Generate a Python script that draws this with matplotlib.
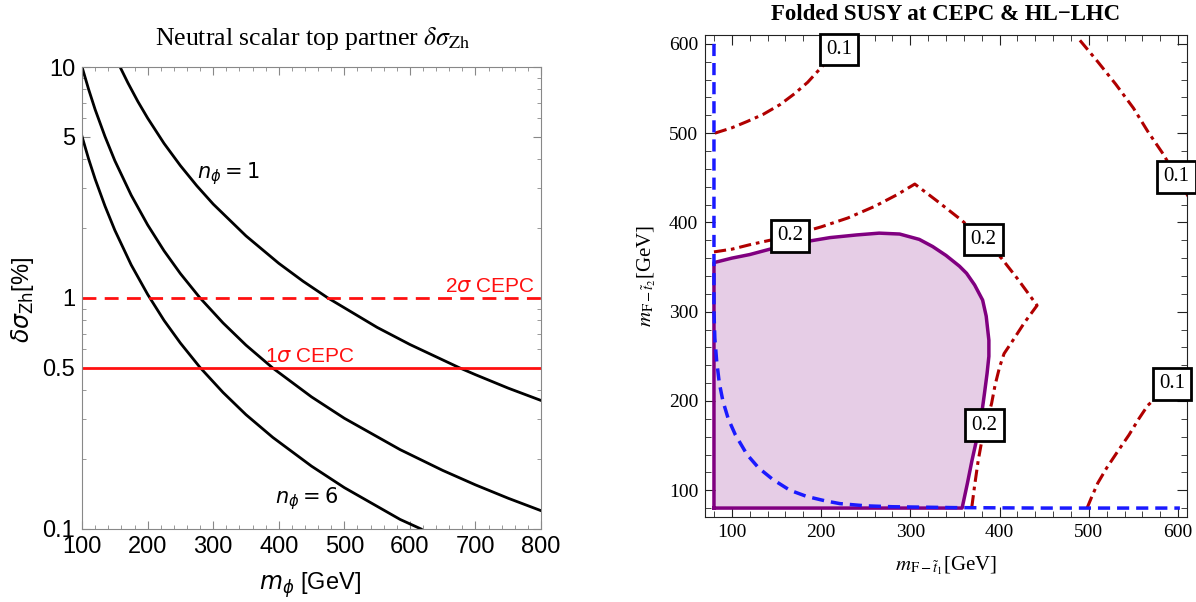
import matplotlib
matplotlib.use("Agg")
import matplotlib.pyplot as plt
from matplotlib.ticker import FixedLocator, MultipleLocator, NullFormatter

# ---- left panel: delta sigma_Zh vs m_phi ----
m_top = [158, 170, 185, 200, 225, 250, 275, 300, 350, 400, 437, 475, 550, 600, 676, 700, 750, 800]
v_top = [10, 8.53, 7.10, 6.01, 4.67, 3.74, 3.06, 2.55, 1.857, 1.413, 1.182, 1.0, 0.746, 0.629,
         0.498, 0.4655, 0.407, 0.36]

m_mid = [100, 110, 120, 135, 150, 175, 200, 225, 250, 280, 315, 350, 391, 450, 500, 585, 650, 700, 750, 800]
v_mid = [10, 8.01, 6.54, 5.0, 3.93, 2.785, 2.073, 1.601, 1.275, 1.0, 0.78, 0.625, 0.497, 0.373,
         0.3015, 0.2206, 0.1793, 0.1552, 0.1358, 0.12]

m_low = [100, 110, 120, 135, 150, 175, 200, 225, 250, 280, 315, 350, 391, 450, 500, 585, 617]
v_low = [5.0, 4.0, 3.27, 2.5, 1.965, 1.39, 1.037, 0.80, 0.638, 0.5, 0.39, 0.3125, 0.249, 0.187,
         0.151, 0.110, 0.1]

cepc_2sigma = 1.0
cepc_1sigma = 0.5

# ---- right panel: folded SUSY ----
region_x = [80, 80, 100, 120, 150, 180, 210, 240, 265, 288, 310, 325, 340, 355, 363, 372, 381, 385,
            388, 388, 386, 383, 380, 375, 369, 364, 358, 80]
region_y = [80, 355, 360, 364, 372, 378, 383, 386, 388, 387, 381, 373, 363, 351, 343, 330, 313, 295,
            268, 250, 231, 208, 186, 160, 133, 108, 80, 80]

c02_x = [80, 100, 120, 165, 200, 230, 260, 285, 305, 330, 358, 380, 402, 420, 442, 428, 415, 405,
         400, 395, 391, 385, 380, 376, 372, 369]
c02_y = [367, 370, 375, 385, 395, 405, 418, 431, 443, 424, 402, 382, 360, 337, 307, 288, 268, 253,
         238, 218, 197, 175, 155, 133, 105, 82]

c01a_x = [81, 100, 117, 135, 154, 170, 185, 195, 208, 220, 232]
c01a_y = [500, 506, 513, 521, 532, 544, 557, 568, 582, 596, 612]
c01b_x = [490, 510, 530, 550, 566, 583, 598, 612]
c01b_y = [604, 580, 555, 528, 502, 477, 452, 428]
c01c_x = [498, 503, 510, 520, 532, 545, 556, 566, 580, 593, 612]
c01c_y = [80, 92, 108, 125, 143, 162, 180, 195, 208, 219, 236]

hl_x = [80, 80, 80, 81, 83, 86, 90, 96, 104, 117, 130, 146, 165, 184, 205, 221, 250, 280, 350, 450, 602]
hl_y = [600, 400, 300, 270, 245, 220, 200, 180, 162, 140, 125, 112, 100, 93, 88, 85, 82.5, 81.5, 80.5, 80, 80]

lab_x = [220, 165, 382, 383, 598, 593]
lab_y = [594, 385, 381, 173, 451, 219]
lab_txt = ["0.1", "0.2", "0.2", "0.2", "0.1", "0.1"]

plt.rcParams["font.family"] = "Liberation Sans"

fig = plt.figure(figsize=(11.96, 6.02), dpi=100)
ax1 = fig.add_axes([0.0686, 0.1213, 0.3838, 0.7674])
ax2 = fig.add_axes([0.5895, 0.1412, 0.4030, 0.8007])

# left
ax1.plot(m_top, v_top, color="black", lw=2)
ax1.plot(m_mid, v_mid, color="black", lw=2)
ax1.plot(m_low, v_low, color="black", lw=2)
ax1.axhline(cepc_2sigma, color="#ff1010", lw=2, ls=(0, (5, 3)))
ax1.axhline(cepc_1sigma, color="#ff1010", lw=2)
ax1.set_yscale("log")
ax1.set_xlim(100, 800)
ax1.set_ylim(0.1, 10)
ax1.xaxis.set_major_locator(MultipleLocator(100))
ax1.xaxis.set_minor_locator(MultipleLocator(20))
ax1.yaxis.set_major_locator(FixedLocator([0.1, 0.5, 1, 5, 10]))
ax1.set_yticklabels(["0.1", "0.5", "1", "5", "10"])
ax1.yaxis.set_minor_locator(FixedLocator([0.2, 0.3, 0.4, 0.6, 0.7, 0.8, 0.9, 2, 3, 4, 6, 7, 8, 9]))
ax1.yaxis.set_minor_formatter(NullFormatter())
ax1.tick_params(which="both", direction="in", top=True, right=True, color="#888888",
                labelsize=17, pad=5)
ax1.tick_params(which="major", length=6)
ax1.tick_params(which="minor", length=3)
for s in ax1.spines.values():
    s.set_color("#888888")

ax1.text(323, 3.47, r"$n_\phi = 1$", fontsize=15, ha="center", va="center", math_fontfamily="dejavusans")
ax1.text(443, 0.136, r"$n_\phi = 6$", fontsize=15, ha="center", va="center", math_fontfamily="dejavusans")
ax1.text(790, 1.12, r"2$\sigma$ CEPC", color="#ff1010", fontsize=15, ha="right", va="center",
         math_fontfamily="dejavusans")
ax1.text(447, 0.56, r"1$\sigma$ CEPC", color="#ff1010", fontsize=15, ha="center", va="center",
         math_fontfamily="dejavusans")

fig.text(22 / 1196, 1 - 300 / 602, r"$\delta\sigma_{\mathrm{Zh}}$[%]", rotation=90, fontsize=17,
         ha="center", va="center", math_fontfamily="dejavusans")
fig.text(310 / 1196, 1 - 585 / 602, r"$m_\phi$ [GeV]", fontsize=17, ha="center", va="center",
         math_fontfamily="dejavusans")
fig.text(313 / 1196, 1 - 38 / 602, r"Neutral scalar top partner $\delta\sigma_{\mathrm{Zh}}$", fontsize=18.5,
         ha="center", va="center", family="Liberation Serif", math_fontfamily="stix")

# right
ax2.fill(region_x, region_y, color="#e6cde6", lw=0, zorder=1)
ax2.plot(region_x, region_y, color="#800080", lw=2.5, zorder=2)
red = "#b00000"
dd = (0, (4, 1.6, 1.2, 1.6))
for cx, cy in [(c02_x, c02_y), (c01a_x, c01a_y), (c01b_x, c01b_y), (c01c_x, c01c_y)]:
    ax2.plot(cx, cy, color=red, lw=2.2, ls=dd, zorder=3)
ax2.plot(hl_x, hl_y, color="#1a1aff", lw=2.5, ls=(0, (3.5, 2)), zorder=4)
for x, y, t in zip(lab_x, lab_y, lab_txt):
    ax2.text(x, y, t, fontsize=15, family="Liberation Serif", ha="center", va="center", zorder=6,
             clip_on=False,
             bbox=dict(boxstyle="square,pad=0.3", fc="white", ec="black", lw=2))

ax2.set_xlim(70, 610)
ax2.set_ylim(70, 610)
ax2.xaxis.set_major_locator(MultipleLocator(100))
ax2.xaxis.set_minor_locator(MultipleLocator(20))
ax2.yaxis.set_major_locator(MultipleLocator(100))
ax2.yaxis.set_minor_locator(MultipleLocator(20))
ax2.tick_params(which="both", direction="in", top=True, right=True, color="#222222",
                labelsize=14, labelfontfamily="Liberation Serif", pad=5)
ax2.tick_params(which="major", length=7)
ax2.tick_params(which="minor", length=4)
for s in ax2.spines.values():
    s.set_color("#222222")

ax2.set_xlabel(r"$m_{\mathrm{F}-\tilde{t}_1}$[GeV]", fontsize=15, family="Liberation Serif",
               math_fontfamily="stix", labelpad=10)
ax2.set_ylabel(r"$m_{\mathrm{F}-\tilde{t}_2}$[GeV]", fontsize=15, family="Liberation Serif",
               math_fontfamily="stix", labelpad=8)
fig.text(946 / 1196, 1 - 14 / 602, "Folded SUSY at CEPC & HL\u2212LHC", fontsize=16.5, fontweight="bold",
         ha="center", va="center", family="Liberation Serif")

fig.savefig("out.png", dpi=100)
